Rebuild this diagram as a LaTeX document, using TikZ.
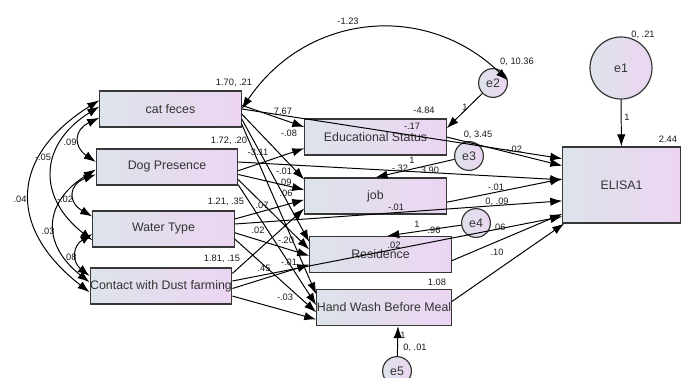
\documentclass[tikz,border=0pt]{standalone}
\usepackage{fontspec}
\setmainfont{Liberation Sans}
\usetikzlibrary{arrows.meta}

\definecolor{boxleft}{RGB}{221,227,234}
\definecolor{boxright}{RGB}{236,213,242}
\definecolor{rim}{RGB}{55,55,55}

\tikzset{
	obsv/.style={draw=rim, line width=0.85pt, left color=boxleft, right color=boxright,
		minimum width=3.53cm, minimum height=0.9cm, inner sep=0pt,
		font=\fontsize{8.8}{10}\selectfont, text=black!80},
	err/.style={circle, draw=rim, line width=0.85pt, left color=boxleft, right color=boxright,
		minimum size=0.72cm, inner sep=0pt, font=\fontsize{8.8}{10}\selectfont, text=black!80},
	coef/.style={inner sep=0.5pt, font=\fontsize{6.6}{7}\selectfont, text=black!90},
	reg/.style={-{Latex[length=3mm,width=2.1mm]}, line width=0.7pt},
	cov/.style={{Latex[length=3mm,width=2.1mm]}-{Latex[length=3mm,width=2.1mm]}, line width=0.7pt},
}

\begin{document}
\begin{tikzpicture}[x=0.025cm,y=0.025cm]
	\useasboundingbox (0,0) rectangle (685,377);%fixed frame

	% exogenous
	\node[obsv] (cat) at (170.5,268) {cat feces};
	\node[obsv] (dog) at (167,210) {Dog Presence};
	\node[obsv] (water) at (163.5,148) {Water Type};
	\node[obsv] (contact) at (161,91) {Contact with Dust farming};

	% mediators
	\node[obsv] (edu) at (375.5,240) {Educational Status};
	\node[obsv] (job) at (375.5,181) {job};
	\node[obsv] (res) at (380.5,122.5) {Residence};
	\node[obsv,minimum width=3.3cm] (hand) at (384,69.5) {Hand Wash Before Meal};

	% outcome
	\node[obsv,minimum width=2.93cm,minimum height=1.9cm] (elisa) at (621.5,192) {ELISA1};

	% errors
	\node[err,minimum size=1.55cm] (e1) at (621,309) {e1};
	\node[err] (e2) at (493,294) {e2};
	\node[err] (e3) at (469,221) {e3};
	\node[err] (e4) at (476,154) {e4};
	\node[err] (e5) at (397,6) {e5};

	% covariances
	\draw[cov] (cat.173) to[bend right=55,looseness=1.4] (contact.185);
	\draw[cov] (cat.178) to[bend right=55,looseness=1.35] (water.189);
	\draw[cov] (cat.187) to[bend right=60,looseness=1.6] (dog.176);
	\draw[cov] (dog.186) to[bend right=65,looseness=1.75] (water.170);
	\draw[cov] (dog.182) to[bend right=55,looseness=1.4] (contact.177);
	\draw[cov] (water.184) to[bend right=55,looseness=1.4] (contact.172);
	\draw[cov] (cat.east) to[bend left=50,looseness=1.1] (e2.10);

	% paths
	\foreach \a/\b in {cat.3/edu.172, cat.0/elisa.156, cat.-4/job.167, cat.-8/res.170, cat.-12/hand.169,
		dog.-3/edu.189, dog.4/elisa.175, dog.-6/job.175, dog.-10/res.176, dog.-14/hand.178,
		water.8/job.183, water.4/elisa.195, water.-3/res.181, water.-8/hand.184,
		contact.10/job.190, contact.4/elisa.208, contact.-2/res.188, contact.-8/hand.190,
		edu.east/elisa.162, job.-5/elisa.174, res.-5/elisa.206, hand.5/elisa.214}
		\draw[reg] (\a) -- (\b);

	\draw[reg] (e1) -- (elisa);
	\draw[reg] (e2) -- (edu.7);
	\draw[reg] (e3) -- (job.north);
	\draw[reg] (e4) -- (res.70);
	\draw[reg] (e5) -- (hand.-53);

	% estimates
	\foreach \x/\y/\t [count=\i] in {234/294/{1.70, .21}, 229/236/{1.72, .20}, 226/175/{1.21, .35},
		222/118/{1.81, .15}, 348/356/-1.23, 517/315/{0, 10.36}, 465/270/1, 424/267/-4.84,
		412/251/-.17, 283/266/7.67, 289/244/-.08, 258/225/-3.11, 478/242/{0, 3.45},
		514/228/-.02, 412/217/1, 400/209/-.32, 430/207/3.90, 284/206/-.01, 285/195/.09,
		286/184/.06, 262/172/.07, 396/170/-.01, 496/190/-.01, 497/175/{0, .09},
		417/153/1, 434/147/.96, 499/150/.06, 394/132/.02, 497/125/.10, 258/147/.02,
		286/137/-.20, 289/115/-.01, 264/109/.45, 285/80/-.03, 437/95/1.08, 403/42/1,
		415/29/{0, .01}, 643/342/{0, .21}, 627/260/1, 668/238/2.44,
		70/235/.09, 43/220/-.05, 20/178/.04, 65/178/-.02, 48/146/.03, 70/120/.08}
		\node[coef] (c\i) at (\x,\y) {\t};
\end{tikzpicture}
\end{document}
